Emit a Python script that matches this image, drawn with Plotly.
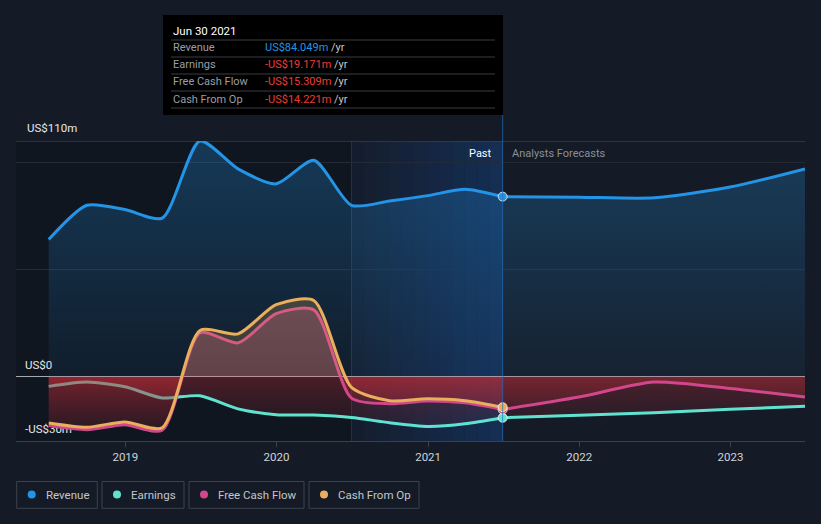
import plotly.graph_objects as go
import datetime as _dt

# ---------------- data ----------------
past_dates = ["2018-06-30", "2018-09-30", "2018-12-31", "2019-03-31", "2019-06-30",
              "2019-09-30", "2019-12-31", "2020-03-31", "2020-06-30", "2020-09-30",
              "2020-12-31", "2021-03-31", "2021-06-30"]
revenue_past = [64, 80, 78, 74, 110, 97, 90, 101, 80, 82, 84.5, 87.5, 84.049]
earnings_past = [-4.5, -2.5, -4.7, -9.9, -8.9, -15, -17.7, -17.9, -19, -21.5, -23.2, -22, -19.171]
fcf_past = [-22.8, -24.7, -22.4, -25, 20.5, 15.8, 29.4, 31.2, -10, -12.6, -11.3, -12.2, -15.309]
cfo_past = [-21.6, -23.6, -21.1, -23.8, 21.6, 20, 33.6, 35.6, -5, -11.2, -10.3, -11.2, -14.221]

fc_dates = ["2021-06-30", "2021-12-31", "2022-06-30", "2022-12-31", "2023-06-30"]
revenue_fc = [84.049, 83.8, 83.5, 88.5, 97]
earnings_fc = [-19.171, -18.0, -16.8, -15.2, -13.8]
fcf_fc = [-15.309, -9.5, -2.5, -5.5, -9.5]

y_tick_vals = [-30, 0, 50, 100, 110]
y_tick_text = ["-US$30m", "US$0", "", "", ""]
y_top_label = "US$110m"

C_REV = "#2394e6"
C_EARN = "#5fe3d0"
C_FCF = "#d1468c"
C_CFO = "#eaaf5c"
BG = "#151b26"

W, H = 821, 524
L, R, T, B = 16, 16, 141, 83
PW, PH = W - L - R, H - T - B


def px(x):
    return (x - L) / PW


def py(y):
    return (H - B - y) / PH


fig = go.Figure()

neg_grad = dict(type="vertical", start=-30, stop=0,
                colorscale=[[0, "rgba(150,35,50,0.05)"], [1, "rgba(200,45,55,0.32)"]])
SPL = dict(shape="spline", smoothing=0.7)

# Revenue
for xs, ys in [(past_dates, revenue_past), (fc_dates, revenue_fc)]:
    fig.add_trace(go.Scatter(
        x=xs, y=ys, mode="lines", line=dict(color=C_REV, width=3, **SPL),
        fill="tozeroy",
        fillgradient=dict(type="vertical", start=0, stop=110,
                          colorscale=[[0, "rgba(35,148,230,0.06)"], [1, "rgba(35,148,230,0.28)"]]),
        hoverinfo="skip", showlegend=False))

# Earnings
for xs, ys in [(past_dates, earnings_past), (fc_dates, earnings_fc)]:
    fig.add_trace(go.Scatter(
        x=xs, y=ys, mode="lines", line=dict(color=C_EARN, width=3, **SPL),
        fill="tozeroy", fillgradient=neg_grad, hoverinfo="skip", showlegend=False))

# FCF
mixed_fcf = dict(type="vertical", start=-30, stop=40,
                 colorscale=[[0, "rgba(150,35,50,0.05)"], [0.428, "rgba(200,45,55,0.32)"],
                             [0.43, "rgba(214,80,140,0.25)"], [1, "rgba(214,80,140,0.3)"]])
fig.add_trace(go.Scatter(
    x=past_dates, y=fcf_past, mode="lines", line=dict(color=C_FCF, width=3, **SPL),
    fill="tozeroy", fillgradient=mixed_fcf, hoverinfo="skip", showlegend=False))
fig.add_trace(go.Scatter(
    x=fc_dates, y=fcf_fc, mode="lines", line=dict(color=C_FCF, width=3, **SPL),
    fill="tozeroy", fillgradient=neg_grad, hoverinfo="skip", showlegend=False))

# CFO
mixed_cfo = dict(type="vertical", start=-30, stop=40,
                 colorscale=[[0, "rgba(150,35,50,0.05)"], [0.428, "rgba(200,45,55,0.32)"],
                             [0.43, "rgba(234,175,92,0.18)"], [1, "rgba(234,175,92,0.22)"]])
fig.add_trace(go.Scatter(
    x=past_dates, y=cfo_past, mode="lines", line=dict(color=C_CFO, width=3, **SPL),
    fill="tozeroy", fillgradient=mixed_cfo, hoverinfo="skip", showlegend=False))

# hover markers at last past point
last = past_dates[-1]
for val, col in [(revenue_past[-1], C_REV), (earnings_past[-1], C_EARN),
                 (fcf_past[-1], C_FCF), (cfo_past[-1], C_CFO)]:
    fig.add_trace(go.Scatter(
        x=[last], y=[val], mode="markers",
        marker=dict(color=col, size=9, line=dict(color="rgba(255,255,255,0.75)", width=1)),
        hoverinfo="skip", showlegend=False))

shapes = []
shapes.append(dict(type="rect", xref="x", yref="paper", x0="2018-04-12", x1="2020-06-30", y0=0, y1=1,
                   fillcolor="rgba(5,8,14,0.25)", line=dict(width=0), layer="between"))
d0 = _dt.date(2020, 6, 30)
d1 = _dt.date(2021, 6, 30)
n = 12
span = (d1 - d0).days
for i in range(n):
    a = d0 + _dt.timedelta(days=span * i / n)
    b = d0 + _dt.timedelta(days=span * (i + 1) / n)
    alpha = 0.04 + 0.30 * (i + 0.5) / n
    shapes.append(dict(type="rect", xref="x", yref="paper", x0=a.isoformat(), x1=b.isoformat(),
                       y0=0, y1=1, fillcolor=f"rgba(20,85,175,{alpha:.3f})", line=dict(width=0),
                       layer="between"))
shapes.append(dict(type="line", xref="x", yref="paper", x0="2020-06-30", x1="2020-06-30", y0=0, y1=1,
                   line=dict(color="rgba(40,70,110,0.6)", width=1), layer="between"))
shapes.append(dict(type="line", xref="paper", yref="y", x0=0, x1=1, y0=110, y1=110,
                   line=dict(color="#474d58", width=1), layer="between"))
shapes.append(dict(type="line", xref="x", yref="paper", x0=last, x1=last, y0=0, y1=py(115),
                   line=dict(color="rgba(35,110,190,0.7)", width=1), layer="above"))

shapes.append(dict(type="rect", xref="paper", yref="paper", x0=px(163), x1=px(503), y0=py(15), y1=py(115),
                   fillcolor="#000000", line=dict(width=0), layer="above"))
for yy in [40, 57, 74, 91, 108]:
    shapes.append(dict(type="line", xref="paper", yref="paper", x0=px(171), x1=px(495), y0=py(yy), y1=py(yy),
                       line=dict(color="#3a3d42", width=1), layer="above"))

annotations = []
annotations.append(dict(xref="paper", yref="y", x=px(25), y=110, yshift=13, xanchor="left", yanchor="middle",
                        text=y_top_label, showarrow=False, font=dict(color="#e6e8eb", size=11.5, family="Roboto")))
annotations.append(dict(xref="paper", yref="paper", x=px(171), y=py(31), xanchor="left", yanchor="middle",
                        text="Jun 30 2021", showarrow=False, font=dict(color="#ffffff", size=11.5, family="Roboto")))
rows = [("Revenue", "US$84.049m", C_REV, 48),
        ("Earnings", "-US$19.171m", "#ee3b35", 65),
        ("Free Cash Flow", "-US$15.309m", "#ee3b35", 82),
        ("Cash From Op", "-US$14.221m", "#ee3b35", 99)]
for lab, val, col, yy in rows:
    annotations.append(dict(xref="paper", yref="paper", x=px(171), y=py(yy), xanchor="left", yanchor="middle",
                            text=lab, showarrow=False, font=dict(color="#9a9ea5", size=11, family="Roboto")))
    annotations.append(dict(xref="paper", yref="paper", x=px(263), y=py(yy), xanchor="left", yanchor="middle",
                            text=f"<span style='color:{col}'>{val}</span> /yr", showarrow=False,
                            font=dict(color="#c4c7cc", size=11, family="Roboto")))

annotations.append(dict(xref="paper", yref="paper", x=px(494), y=py(153), xanchor="right", yanchor="middle",
                        text="Past", showarrow=False, font=dict(color="#ffffff", size=11, family="Roboto")))
annotations.append(dict(xref="paper", yref="paper", x=px(510), y=py(153), xanchor="left", yanchor="middle",
                        text="Analysts Forecasts", showarrow=False, font=dict(color="#8a8f98", size=11, family="Roboto")))

legend = [("Revenue", C_REV, 16.7, 97.3), ("Earnings", C_EARN, 102, 184),
          ("Free Cash Flow", C_FCF, 189, 304), ("Cash From Op", C_CFO, 309, 419)]
for lab, col, x0, x1 in legend:
    shapes.append(dict(type="rect", xref="paper", yref="paper", x0=px(x0), x1=px(x1), y0=py(481.5), y1=py(508.3),
                       line=dict(color="#3d434e", width=1), fillcolor="rgba(0,0,0,0)"))
    shapes.append(dict(type="circle", xref="paper", yref="paper", x0=px(x0 + 11), x1=px(x0 + 19),
                       y0=py(498.5), y1=py(490.5), line=dict(width=0), fillcolor=col))
    annotations.append(dict(xref="paper", yref="paper", x=px(x0 + 27), y=py(495), xanchor="left", yanchor="middle",
                            text=lab, showarrow=False, font=dict(color="#c2c6cc", size=11.5, family="Roboto")))

fig.update_layout(
    width=W, height=H, margin=dict(l=L, r=R, t=T, b=B),
    paper_bgcolor=BG, plot_bgcolor=BG,
    font=dict(family="Roboto", color="#c8ccd2", size=11),
    shapes=shapes, annotations=annotations, showlegend=False,
    xaxis=dict(type="date", range=["2018-04-12", "2023-06-30"], tick0="2019-01-01", dtick="M12",
               tickformat="%Y", showgrid=False, zeroline=False, showline=True, linecolor="#3b414c",
               ticks="outside", ticklen=5, tickcolor="#3b414c",
               tickfont=dict(color="#d0d3d8", size=11.5, family="Roboto"), fixedrange=True),
    yaxis=dict(range=[-30, 110], tickvals=y_tick_vals, ticktext=y_tick_text,
               ticklabelposition="inside top", ticklabelstandoff=6, ticklabelshift=-4,
               showgrid=True, gridcolor="#232a35",
               zeroline=True, zerolinecolor="#a3a8b0", zerolinewidth=1, layer="below traces",
               tickfont=dict(color="#e6e8eb", size=11.5, family="Roboto"), fixedrange=True),
)

fig.write_html("out.html", config={"displayModeBar": False},
               post_script="document.body.style.margin='0';document.body.style.background='#151b26';")
